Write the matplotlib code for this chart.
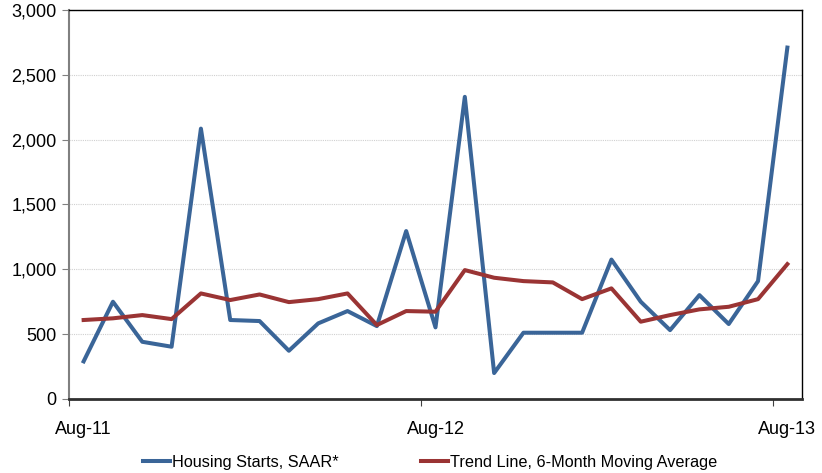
import matplotlib
matplotlib.use("Agg")
import matplotlib.pyplot as plt
import numpy as np

months = ["Aug-11", "Sep-11", "Oct-11", "Nov-11", "Dec-11", "Jan-12", "Feb-12", "Mar-12",
          "Apr-12", "May-12", "Jun-12", "Jul-12", "Aug-12", "Sep-12", "Oct-12", "Nov-12",
          "Dec-12", "Jan-13", "Feb-13", "Mar-13", "Apr-13", "May-13", "Jun-13", "Jul-13", "Aug-13"]
housing_starts = [290, 750, 441, 403, 2085, 609, 601, 372, 583, 678, 562, 1295,
                  552, 2330, 200, 511, 511, 511, 1075, 750, 531, 801, 578, 909, 2710]
trend = [609, 622, 647, 616, 814, 763, 806, 747, 770, 814, 570, 678,
         673, 994, 935, 909, 899, 770, 853, 596, 647, 691, 711, 770, 1040]
tick_labels = ["Aug-11", "Aug-12", "Aug-13"]
yticks = [0, 500, 1000, 1500, 2000, 2500, 3000]

plt.rcParams['font.family'] = ['Liberation Sans', 'DejaVu Sans']

fig = plt.figure(figsize=(8.22, 4.73), dpi=100)
ax = fig.add_axes([0.0839, 0.1565, 0.8918, 0.8224])

x = np.arange(len(months))
l1, = ax.plot(x, housing_starts, color="#3A6598", lw=2.9, solid_joinstyle="round",
              label="Housing Starts, SAAR*")
l2, = ax.plot(x, trend, color="#9A3434", lw=2.9, solid_joinstyle="round",
              label="Trend Line, 6-Month Moving Average")

ax.set_xlim(-0.5, len(months) - 0.5)
ax.set_ylim(0, 3000)
ax.set_yticks(yticks)
ax.set_yticklabels([f"{v:,}" for v in yticks], fontsize=13)

# major ticks at category boundaries (no labels), labels at category centers
label_idx = [months.index(t) for t in tick_labels]
ax.set_xticks([i - 0.5 for i in label_idx])
ax.set_xticklabels([])
ax.set_xticks(label_idx, minor=True)
ax.set_xticklabels(tick_labels, minor=True, fontsize=13)
ax.tick_params(axis="x", which="minor", length=0, pad=16)
ax.tick_params(axis="x", which="major", length=5, direction="out", color="#404040")
ax.tick_params(axis="y", length=5, direction="out", color="#808080", pad=4)

ax.grid(axis="y", color="#D0D0D0", linestyle=(0, (1, 1)), linewidth=0.8)
ax.set_axisbelow(True)

ax.spines["left"].set_color("#808080")
ax.spines["left"].set_linewidth(1.5)
ax.spines["bottom"].set_color("#303030")
ax.spines["bottom"].set_linewidth(2)
ax.spines["top"].set_color("black")
ax.spines["top"].set_linewidth(1)
ax.spines["right"].set_color("black")
ax.spines["right"].set_linewidth(1)

fig.legend(handles=[l1, l2], loc="lower center", bbox_to_anchor=(0.523, -0.024), ncol=2,
           frameon=False, fontsize=11.7, handlelength=1.7, handletextpad=0.1,
           columnspacing=5.05)

fig.savefig("out.png", dpi=100)
